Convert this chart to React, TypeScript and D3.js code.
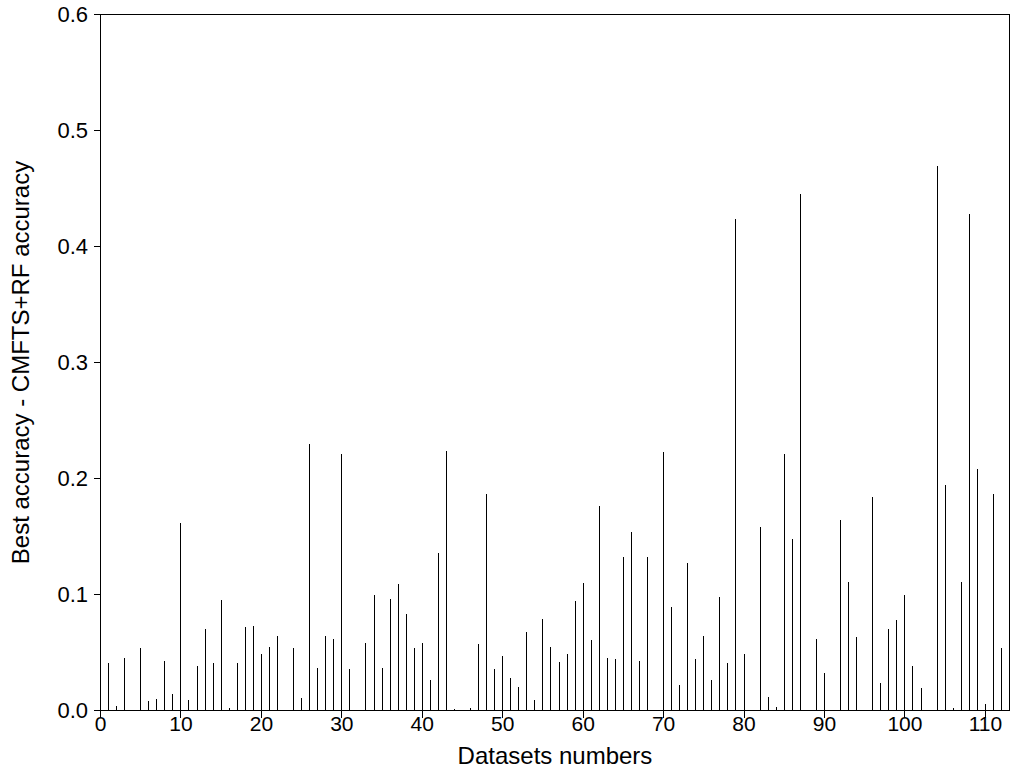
import React from "react";
import * as d3 from "d3";

const datasetValues: number[] = [
  0.041, 0.004, 0.045, 0, 0.054, 0.008, 0.010, 0.043, 0.014, 0.162,
  0.009, 0.038, 0.070, 0.041, 0.095, 0.002, 0.041, 0.072, 0.073, 0.049,
  0.055, 0.064, 0, 0.054, 0.011, 0.230, 0.037, 0.064, 0.062, 0.221,
  0.036, 0, 0.058, 0.100, 0.037, 0.096, 0.109, 0.083, 0.054, 0.058,
  0.026, 0.136, 0.224, 0.001, 0, 0.002, 0.057, 0.187, 0.036, 0.047,
  0.028, 0.020, 0.068, 0.009, 0.079, 0.055, 0.042, 0.049, 0.094, 0.110,
  0.061, 0.176, 0.045, 0.044, 0.132, 0.154, 0.043, 0.132, 0, 0.223,
  0.089, 0.022, 0.127, 0.044, 0.064, 0.026, 0.098, 0.041, 0.4235, 0.049,
  0, 0.158, 0.012, 0.003, 0.221, 0.148, 0.445, 0, 0.062, 0.032,
  0, 0.164, 0.111, 0.063, 0, 0.184, 0.024, 0.070, 0.078, 0.100,
  0.038, 0.019, 0, 0.469, 0.194, 0.002, 0.111, 0.428, 0.208, 0.006,
  0.187, 0.054,
];
const datasetNumbers: number[] = datasetValues.map((_, i) => i + 1);
const xTicks: number[] = [0, 10, 20, 30, 40, 50, 60, 70, 80, 90, 100, 110];
const yTicks: number[] = [0, 0.1, 0.2, 0.3, 0.4, 0.5, 0.6];
const xTitle = "Datasets numbers";
const yTitle = "Best accuracy - CMFTS+RF accuracy";

const W = 1024;
const H = 768;
const left = 100.5;
const right = 1009.5;
const top = 14.5;
const bottom = 710.5;
const font = "'Liberation Sans', Arial, sans-serif";

export default function App() {
  const x = d3.scaleLinear().domain([0, 113]).range([left, right]);
  const y = d3.scaleLinear().domain([0, 0.6]).range([bottom, top]);
  const snap = (v: number) => Math.round(v - 0.5) + 0.5;

  return (
    <svg
      width={W}
      height={H}
      style={{ position: "absolute", left: 0, top: 0, background: "#fff" }}
      fontFamily={font}
    >
      <rect x={0} y={0} width={W} height={H} fill="#fff" />
      {datasetNumbers.map((n, i) =>
        datasetValues[i] > 0 ? (
          <line
            key={n}
            x1={snap(x(n))}
            x2={snap(x(n))}
            y1={bottom}
            y2={y(datasetValues[i])}
            stroke="#000"
            strokeWidth={1}
            shapeRendering="crispEdges"
          />
        ) : null
      )}
      <rect
        x={left}
        y={top}
        width={right - left}
        height={bottom - top}
        fill="none"
        stroke="#000"
        strokeWidth={1}
        shapeRendering="crispEdges"
      />
      {yTicks.map((t) => (
        <g key={"y" + t}>
          <line
            x1={left - 7}
            x2={left}
            y1={snap(y(t))}
            y2={snap(y(t))}
            stroke="#000"
            shapeRendering="crispEdges"
          />
          <text
            x={88}
            y={y(t)}
            textAnchor="end"
            dominantBaseline="central"
            fontSize={22}
            fill="#000"
          >
            {t.toFixed(1)}
          </text>
        </g>
      ))}
      {xTicks.map((t) => (
        <g key={"x" + t}>
          <line
            x1={snap(x(t))}
            x2={snap(x(t))}
            y1={bottom}
            y2={bottom + 7}
            stroke="#000"
            shapeRendering="crispEdges"
          />
          <text
            x={x(t)}
            y={731}
            textAnchor="middle"
            fontSize={21}
            fill="#000"
          >
            {t}
          </text>
        </g>
      ))}
      <text
        x={(left + right) / 2}
        y={764}
        textAnchor="middle"
        fontSize={24}
        fill="#000"
      >
        {xTitle}
      </text>
      <text
        transform={`translate(29, ${(top + bottom) / 2}) rotate(-90)`}
        textAnchor="middle"
        fontSize={24}
        fill="#000"
      >
        {yTitle}
      </text>
    </svg>
  );
}
